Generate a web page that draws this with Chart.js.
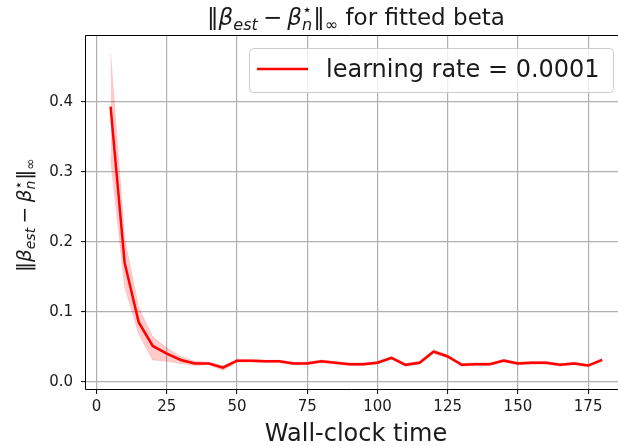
<!DOCTYPE html>
<html>
<head>
<meta charset="utf-8">
<script src="https://cdn.jsdelivr.net/npm/chart.js@4/dist/chart.umd.min.js"></script>
<style>
  html, body { margin: 0; padding: 0; background: #fff; overflow: hidden; }
  canvas { display: block; }
</style>
</head>
<body>
<canvas id="c" width="618" height="446"></canvas>
<script>
// wall-clock time of each evaluation
const times = [5, 10, 15, 20, 25, 30, 35, 40, 45, 50, 55, 60, 65, 70, 75, 80, 85, 90,
               95, 100, 105, 110, 115, 120, 125, 130, 135, 140, 145, 150, 155, 160, 165, 170, 175, 180];
// mean sup-norm error, and the shaded band around it
const errMean = [0.393, 0.170, 0.085, 0.051, 0.040, 0.031, 0.026, 0.026, 0.020, 0.030, 0.030, 0.029,
                 0.029, 0.026, 0.026, 0.029, 0.027, 0.025, 0.025, 0.027, 0.034, 0.024, 0.027, 0.043,
                 0.036, 0.024, 0.025, 0.025, 0.030, 0.026, 0.027, 0.027, 0.024, 0.026, 0.023, 0.031];
const errUpper = [0.470, 0.205, 0.106, 0.064, 0.048, 0.036, 0.029, 0.028, 0.023, 0.032, 0.032, 0.031,
                  0.031, 0.028, 0.028, 0.031, 0.029, 0.027, 0.027, 0.029, 0.036, 0.026, 0.029, 0.046,
                  0.038, 0.026, 0.027, 0.027, 0.032, 0.028, 0.029, 0.029, 0.026, 0.028, 0.025, 0.033];
const errLower = [0.318, 0.135, 0.068, 0.031, 0.029, 0.026, 0.023, 0.024, 0.016, 0.028, 0.028, 0.027,
                  0.027, 0.024, 0.024, 0.027, 0.025, 0.023, 0.023, 0.025, 0.032, 0.022, 0.025, 0.040,
                  0.034, 0.022, 0.023, 0.023, 0.028, 0.024, 0.025, 0.025, 0.022, 0.024, 0.021, 0.029];
const seriesLabel = 'learning rate = 0.0001';
const xTicks = [0, 25, 50, 75, 100, 125, 150, 175];
const yTicks = [0.0, 0.1, 0.2, 0.3, 0.4];
const xLabel = 'Wall-clock time';

const FONT = '"DejaVu Sans", sans-serif';
const TEXT = '#1a1a1a';

const pts = ys => times.map((t, i) => ({ x: t, y: ys[i] }));

// ‖β_est − β*_n‖_∞ as runs of plain / italic / sub / sup text
const normParts = [
  { t: '‖' },
  { t: 'β', it: true },
  { t: 'est', it: true, pos: 'sub' },
  { t: '−', pre: 0.22, post: 0.22 },
  { t: 'β', it: true },
  { t: '⋆', pos: 'sup', stack: true },
  { t: 'n', it: true, pos: 'sub' },
  { t: '‖', pre: 0.05 },
  { t: '∞', pos: 'sub' }
];

function layoutMath(ctx, parts, size) {
  let x = 0, held = 0;
  const runs = [];
  for (const p of parts) {
    const fs = p.pos ? size * 0.7 : size;
    const font = (p.it ? 'italic ' : '') + fs + 'px ' + FONT;
    ctx.font = font;
    const w = ctx.measureText(p.t).width;
    const dy = p.pos === 'sub' ? size * 0.2 : p.pos === 'sup' ? -size * 0.42 : 0;
    x += (p.pre || 0) * size;
    runs.push({ t: p.t, font, x, dy });
    if (p.stack) { held = w; } else { x += Math.max(w, held); held = 0; }
    x += (p.post || 0) * size;
  }
  return { runs, width: x };
}

function drawMath(ctx, parts, size, cx, baseline) {
  const m = layoutMath(ctx, parts, size);
  const x0 = cx - m.width / 2;
  ctx.textAlign = 'left';
  ctx.textBaseline = 'alphabetic';
  for (const r of m.runs) {
    ctx.font = r.font;
    ctx.fillText(r.t, x0 + r.x, baseline + r.dy);
  }
}

// the axes run past the right edge of the canvas; their centre sits at x = 356
const AXES_CENTER = 356;

const decorations = {
  id: 'decorations',
  afterDraw(chart) {
    const { ctx, chartArea: a } = chart;
    ctx.save();

    // left, top and bottom spines
    const L = Math.round(a.left) - 0.5, T = Math.round(a.top) + 0.5, B = Math.round(a.bottom) + 0.5;
    ctx.strokeStyle = '#000';
    ctx.lineWidth = 1;
    ctx.beginPath();
    ctx.moveTo(chart.width, T);
    ctx.lineTo(L, T);
    ctx.lineTo(L, B);
    ctx.lineTo(chart.width, B);
    ctx.stroke();

    // legend box
    const lx = 249, ly = 48, lw = 364, lh = 44;
    ctx.beginPath();
    ctx.roundRect(lx + 0.5, ly + 0.5, lw, lh, 4);
    ctx.fillStyle = 'rgba(255,255,255,0.8)';
    ctx.fill();
    ctx.strokeStyle = '#cccccc';
    ctx.lineWidth = 1;
    ctx.stroke();
    const ds = chart.data.datasets[0];
    ctx.beginPath();
    ctx.moveTo(257, 69);
    ctx.lineTo(308, 69);
    ctx.strokeStyle = ds.borderColor;
    ctx.lineWidth = ds.borderWidth;
    ctx.stroke();
    ctx.fillStyle = TEXT;
    ctx.font = '24px ' + FONT;
    ctx.textAlign = 'left';
    ctx.textBaseline = 'alphabetic';
    ctx.fillText(ds.label, 326, 77);

    // title
    const titleParts = normParts.concat([{ t: ' for fitted beta' }]);
    drawMath(ctx, titleParts, 23, AXES_CENTER, 25);

    // x label
    ctx.font = '24px ' + FONT;
    ctx.textAlign = 'center';
    ctx.fillText(xLabel, AXES_CENTER, 441);

    // y label, rotated
    ctx.save();
    ctx.translate(31, 215);
    ctx.rotate(-Math.PI / 2);
    drawMath(ctx, normParts, 20, 0, 0);
    ctx.restore();

    ctx.restore();
  }
};

const tickFont = { family: FONT, size: 15 };

new Chart(document.getElementById('c'), {
  type: 'line',
  data: {
    datasets: [
      {
        label: seriesLabel,
        data: pts(errMean),
        borderColor: '#ff0000',
        borderWidth: 2.5,
        pointRadius: 0,
        tension: 0,
        fill: false
      },
      {
        label: 'upper',
        data: pts(errUpper),
        borderColor: 'rgba(255,0,0,0.12)',
        borderWidth: 1,
        backgroundColor: 'rgba(255,0,0,0.2)',
        pointRadius: 0,
        tension: 0,
        fill: '+1'
      },
      {
        label: 'lower',
        data: pts(errLower),
        borderColor: 'rgba(255,0,0,0.12)',
        borderWidth: 1,
        pointRadius: 0,
        tension: 0,
        fill: false
      }
    ]
  },
  options: {
    responsive: false,
    animation: false,
    devicePixelRatio: 1,
    events: [],
    layout: { padding: { top: 35, right: 0, left: 0, bottom: 0 } },
    plugins: {
      legend: { display: false },
      title: { display: false },
      tooltip: { enabled: false }
    },
    scales: {
      x: {
        type: 'linear',
        min: -3.75,
        max: 185.63,
        afterBuildTicks: s => { s.ticks = xTicks.map(v => ({ value: v })); },
        afterFit: s => { s.height = 57; },
        border: { display: false },
        grid: { color: '#b0b0b0', lineWidth: 1.2, tickLength: 5, tickColor: '#000', tickWidth: 1 },
        ticks: { color: TEXT, font: tickFont, padding: 4, maxRotation: 0, autoSkip: false,
                 callback: v => String(v) }
      },
      y: {
        type: 'linear',
        min: -0.0105,
        max: 0.4953,
        afterBuildTicks: s => { s.ticks = yTicks.map(v => ({ value: v })); },
        afterFit: s => { s.width = 86; },
        border: { display: false },
        grid: { color: '#b0b0b0', lineWidth: 1.2, tickLength: 5, tickColor: '#000', tickWidth: 1 },
        ticks: { color: TEXT, font: tickFont, padding: 8, autoSkip: false,
                 callback: v => v.toFixed(1) }
      }
    }
  },
  plugins: [decorations]
});
</script>
</body>
</html>
